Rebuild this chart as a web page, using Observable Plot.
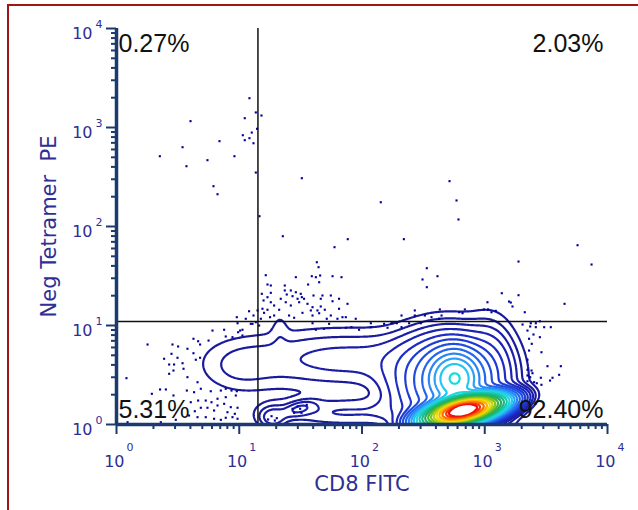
<!DOCTYPE html>
<html>
<head>
<meta charset="utf-8">
<script src="https://cdn.jsdelivr.net/npm/d3@7"></script>
<script src="https://cdn.jsdelivr.net/npm/@observablehq/plot@0.6"></script>
<style>
  html, body { margin: 0; padding: 0; background: #fff; overflow: hidden; width: 638px; height: 510px; }
  #frame { position: absolute; left: 7px; top: 4px; width: 700px; height: 600px; border-left: 2px solid #9e1616; border-top: 2px solid #9e1616; }
  #chart { position: absolute; left: 0; top: 0; }
</style>
</head>
<body>
<div id="frame"></div>
<div id="chart"></div>
<script>
// ---- axis ticks ----
const decades = [1, 10, 100, 1000, 10000];
const decadeExponents = ["0", "1", "2", "3", "4"];
const minorTicks = [2,3,4,5,6,7,8,9,20,30,40,50,60,70,80,90,200,300,400,500,600,700,800,900,2000,3000,4000,5000,6000,7000,8000,9000];

// ---- labels ----
const xTitle = "CD8 FITC";
const yTitle = "Neg Tetramer  PE";
const quadrantLabels = ["0.27%", "2.03%", "5.31%", "92.40%"];

// ---- quadrant gate (data units) ----
const gateCD8 = 14.2;
const gatePE = 11;

// ---- density model (log10 decades) ----
const compLogCD8 = [2.825, 2.76, 2.7, 1.85, 1.0, 1.85, 1.27, 1.49, 3.05, 1.33];
const compLogPE  = [0.14, 0.47, 0.42, 0.66, 0.58, 0.12, 0.07, 0.16, 0.55, 0.98];
const compSdCD8  = [0.235, 0.12, 0.24, 0.55, 0.2, 0.4, 0.07, 0.09, 0.12, 0.045];
const compSdPE   = [0.09, 0.16, 0.27, 0.19, 0.17, 0.1, 0.07, 0.045, 0.3, 0.12];
const compTilt   = [16.8, 0, 0, 0, 0, 0, 0, 20, 0, 0];
const compShape  = [2.6, 2, 2, 2, 2, 2, 2, 2, 2, 2];
const compWeight = [1, 0.118, 0.05, 0.006, 0.0025, 0.005, 0.006, 0.006, 0.008, 0.0013];

// ---- contour levels and colours ----
const levels = [0.0015, 0.003, 0.005, 0.008, 0.013, 0.02, 0.03, 0.045, 0.065, 0.09, 0.12, 0.16, 0.21, 0.27, 0.34, 0.42, 0.5, 0.58, 0.66, 0.74, 0.82, 0.9, 0.95, 0.997];
const levelColors = ["#1a1a9a","#1a1a9c","#1b1ea6","#1c22b4","#1c2cc4","#1c3ad4","#1e4ee2","#2266ee","#2a84f4","#2ca2f6","#22c6f2","#1cd8d8","#18c8b0","#1ab888","#22b060","#40b838","#80c420","#c0d010","#f0dc00","#ffb000","#ff7000","#ff3000","#f01010","#ffffff"];

// ---- individual events (log10 CD8, log10 PE) ----
const eventsLog = [
[1.083,3.296],[0.603,3.064],[1.135,3.152],[1.181,3.121],[1.045,3.094],[1.102,2.949],[1.029,2.922],[1.083,2.892],[1.045,2.872],[0.839,2.862],[1.116,2.841],[0.538,2.801],[0.353,2.710],[0.961,2.710],[0.741,2.670],[0.570,2.609],[1.135,2.545],[1.510,2.488],[0.790,2.407],[0.823,2.326],[1.165,2.104],[1.355,1.902],[1.145,2.987],
[2.713,2.458],[2.153,2.245],[2.770,2.263],[2.786,2.071],[1.884,1.872],[2.341,1.872],[1.776,1.791],[3.756,1.811],[3.870,1.616],[3.650,1.219],
[0.253,0.808],[0.456,0.808],[0.502,0.788],[0.627,0.866],[0.665,0.841],[0.681,0.808],[0.750,0.848],[0.782,0.949],[0.877,0.957],[0.890,0.889],[1.007,0.949],[1.026,0.899],[1.094,1.017],[1.135,1.033],[0.578,0.765],[0.627,0.720],[0.448,0.714],[0.388,0.664],[0.497,0.674],[0.429,0.606],[0.469,0.606],[0.538,0.619],[0.646,0.654],[0.681,0.674],[0.464,0.545],[0.546,0.563],[0.429,0.512],[0.578,0.478],[0.081,0.468],[0.660,0.427],[0.355,0.354],[0.402,0.354],[0.288,0.310],[0.464,0.293],[0.573,0.343],[0.632,0.326],[0.687,0.361],[0.768,0.336],[0.850,0.343],[0.890,0.361],[0.937,0.343],[0.980,0.336],[0.972,0.293],[0.890,0.276],[0.823,0.260],[0.774,0.225],[0.727,0.242],[0.665,0.242],[0.605,0.225],[0.823,0.192],[0.877,0.209],[0.931,0.175],[0.986,0.169],[0.741,0.169],[0.687,0.169],[0.638,0.134],[0.795,0.141],[0.904,0.124],[0.964,0.108],[0.727,0.074],[0.795,0.058],[0.850,0.047],[0.890,0.068],[0.945,0.074],[0.986,0.058],[0.361,0.023],[0.483,0.047],[0.090,0.023],[0.660,0.074],[0.591,0.091],
[1.632,1.639],[1.646,1.589],[1.216,1.508],[1.461,1.488],[1.591,1.498],[1.624,1.488],[1.659,1.505],[1.760,1.498],[1.833,1.488],[1.651,1.437],[1.230,1.414],[1.257,1.404],[1.561,1.414],[1.371,1.404],[1.371,1.354],[1.420,1.354],[1.461,1.336],[1.501,1.320],[1.257,1.330],[1.184,1.320],[1.387,1.313],[1.510,1.286],[1.605,1.303],[1.678,1.303],[1.746,1.303],[1.434,1.296],[1.230,1.286],[1.338,1.270],[1.475,1.270],[1.528,1.270],[1.664,1.270],[1.813,1.270],[1.198,1.253],[1.257,1.235],[1.379,1.235],[1.488,1.235],[1.556,1.219],[1.760,1.245],[1.882,1.219],[1.284,1.202],[1.420,1.202],[1.597,1.185],[1.664,1.192],[1.189,1.169],[1.230,1.159],[1.325,1.159],[1.583,1.152],[1.637,1.152],[1.697,1.159],[1.813,1.169],[1.080,1.144],[1.149,1.152],[1.202,1.128],[1.515,1.128],[1.651,1.124],[1.284,1.101],[1.406,1.101],[1.597,1.101],[1.746,1.101],[1.841,1.084],[1.116,1.101],[0.980,1.084],[1.053,1.068],[1.176,1.068],[1.251,1.084],[1.447,1.078],[1.713,1.068],[1.800,1.068],[1.868,1.084],[1.949,1.068],[0.986,1.023],[1.108,1.017],[1.162,1.000],[1.597,1.023],[1.732,1.017],[1.868,0.977],[1.914,0.983],[1.976,0.957],[2.072,1.023],[2.072,0.983],[2.180,1.017],[2.208,0.977],[2.248,1.023],[2.284,1.023],[1.026,0.957],[0.991,0.932],[0.945,0.882],[1.624,0.957],[1.691,0.967],
[3.275,1.646],[2.528,1.579],[2.615,1.498],[2.493,1.465],[2.528,1.387],[3.139,1.326],[3.275,1.306],[3.022,1.235],[3.198,1.242],[3.212,1.232],[3.226,1.192],[2.634,1.162],[2.430,1.152],[2.995,1.162],[3.027,1.162],[3.090,1.148],[2.838,1.162],[2.791,1.134],[2.819,1.124],[3.055,1.134],[3.326,1.134],[2.322,1.101],[2.430,1.101],[2.512,1.101],[2.648,1.101],[2.566,1.084],[2.628,1.068],[2.240,1.023],[2.384,1.023],[2.479,1.023],[3.308,1.010],[3.375,1.023],[3.416,1.023],[3.449,1.043],[3.370,0.990],[3.416,0.983],[3.484,0.983],[3.538,0.983],[2.322,0.983],[3.348,0.949],[3.397,0.909],[3.361,0.866],[3.449,0.882],[3.383,0.815],
[3.361,0.747],[3.462,0.730],[3.348,0.654],[3.511,0.589],[3.620,0.589],[3.348,0.553],[3.381,0.545],[3.389,0.518],[3.348,0.495],[3.370,0.478],[3.457,0.472],[3.606,0.502],[3.552,0.472],[3.532,0.444],[3.402,0.427],[3.424,0.417],[3.462,0.401],[3.348,0.437],
[1.434,0.159],[1.475,0.182],[1.496,0.159],[1.447,0.118],[1.507,0.118],[1.550,0.199],[1.263,0.084],[1.306,0.064],[1.235,0.051],[1.290,0.040]
];

const events = eventsLog.map(([a, b]) => ({cd8: 10 ** a, pe: 10 ** b}));

function density(x, y) {
  const u = Math.log10(x), v = Math.log10(y);
  let s = 0;
  for (let i = 0; i < compWeight.length; i++) {
    const a = u - compLogCD8[i], b = v - compLogPE[i];
    const t = compTilt[i] * Math.PI / 180;
    const p = a * Math.cos(t) + b * Math.sin(t);
    const q = -a * Math.sin(t) + b * Math.cos(t);
    const r2 = (p / compSdCD8[i]) ** 2 + (q / compSdPE[i]) ** 2;
    s += compWeight[i] * Math.exp(-0.5 * Math.pow(r2, compShape[i] / 2));
  }
  return s;
}

const axisColor = "#1d3a6c";
const labelColor = "#2e2e94";
const tickFont = "DejaVu Sans, sans-serif";
const pctFont = "Liberation Sans, Arial, sans-serif";

const chart = Plot.plot({
  width: 638,
  height: 510,
  marginLeft: 116,
  marginRight: 31,
  marginTop: 28,
  marginBottom: 86,
  x: {type: "log", domain: [1, 10000]},
  y: {type: "log", domain: [1, 10000]},
  color: {type: "ordinal", domain: levels, range: levelColors},
  style: {background: "transparent", overflow: "visible"},
  marks: [
    Plot.contour({x1: 1, x2: 10000, y1: 1, y2: 10000, stroke: density, fill: "none", thresholds: levels, strokeWidth: 2.2, pixelSize: 1}),
    Plot.dot(events, {x: "cd8", y: "pe", symbol: "square", r: 1.2, fill: "#00009c", stroke: "none"}),
    Plot.ruleX([gateCD8], {y1: 1, y2: 10000, stroke: "#111", strokeWidth: 1.5}),
    Plot.ruleY([gatePE], {x1: 1, x2: 10000, stroke: "#111", strokeWidth: 1.5}),
    Plot.axisX({ticks: minorTicks, tickSize: 5, tickFormat: () => "", label: null, stroke: axisColor, strokeWidth: 2}),
    Plot.axisX({ticks: decades, tickSize: 10, tickFormat: () => "", label: null, stroke: axisColor, strokeWidth: 2}),
    Plot.axisY({ticks: minorTicks, tickSize: 5, tickFormat: () => "", label: null, stroke: axisColor, strokeWidth: 2}),
    Plot.axisY({ticks: decades, tickSize: 10, tickFormat: () => "", label: null, stroke: axisColor, strokeWidth: 2}),
    Plot.ruleX([1], {y1: 1, y2: 10000, stroke: axisColor, strokeWidth: 3.5}),
    Plot.ruleY([1], {x1: 1, x2: 10000, stroke: axisColor, strokeWidth: 3.5}),
    // x tick labels 10^n
    Plot.text(decades, {x: d => d, y: () => 1, text: () => "10", textAnchor: "end", lineAnchor: "bottom", dx: 8, dy: 42, fontSize: 16, fontFamily: tickFont, fill: labelColor}),
    Plot.text(decades, {x: d => d, y: () => 1, text: (d, i) => decadeExponents[i], textAnchor: "start", lineAnchor: "bottom", dx: 10, dy: 26, fontSize: 11, fontFamily: tickFont, fill: labelColor}),
    // y tick labels 10^n
    Plot.text(decades, {x: () => 1, y: d => d, text: () => "10", textAnchor: "end", lineAnchor: "bottom", dx: -24, dy: 10, fontSize: 16, fontFamily: tickFont, fill: labelColor}),
    Plot.text(decades, {x: () => 1, y: d => d, text: (d, i) => decadeExponents[i], textAnchor: "start", lineAnchor: "bottom", dx: -21, dy: -1, fontSize: 11, fontFamily: tickFont, fill: labelColor}),
    // axis titles
    Plot.text([xTitle], {frameAnchor: "bottom", text: d => d, textAnchor: "middle", lineAnchor: "bottom", dy: 66, fontSize: 21, fontFamily: tickFont, fill: labelColor, style: "letter-spacing:1.5px"}),
    Plot.text([yTitle], {frameAnchor: "left", text: d => d, textAnchor: "middle", rotate: -90, lineAnchor: "bottom", dx: -61, fontSize: 21, fontFamily: tickFont, fill: labelColor, style: "letter-spacing:1.2px"}),
    // quadrant percentages
    Plot.text([quadrantLabels[0]], {frameAnchor: "top-left", text: d => d, textAnchor: "start", lineAnchor: "bottom", dx: 2, dy: 23, fontSize: 25, fontFamily: pctFont, fill: "#111"}),
    Plot.text([quadrantLabels[1]], {frameAnchor: "top-right", text: d => d, textAnchor: "end", lineAnchor: "bottom", dx: -4, dy: 23, fontSize: 25, fontFamily: pctFont, fill: "#111"}),
    Plot.text([quadrantLabels[2]], {frameAnchor: "bottom-left", text: d => d, textAnchor: "start", lineAnchor: "bottom", dx: 2, dy: -7, fontSize: 25, fontFamily: pctFont, fill: "#111"}),
    Plot.text([quadrantLabels[3]], {frameAnchor: "bottom-right", text: d => d, textAnchor: "end", lineAnchor: "bottom", dx: -4, dy: -7, fontSize: 25, fontFamily: pctFont, fill: "#111"})
  ]
});
document.getElementById("chart").appendChild(chart);
</script>
</body>
</html>
